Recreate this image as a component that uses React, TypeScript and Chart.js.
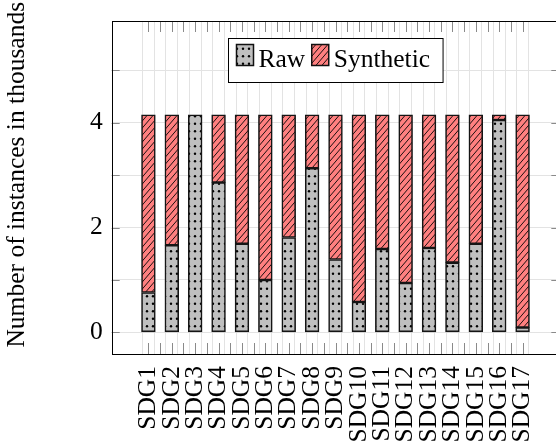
import React, { useEffect, useRef } from 'react';
import { Chart, registerables } from 'chart.js';

Chart.register(...registerables);

const categories = ['SDG1', 'SDG2', 'SDG3', 'SDG4', 'SDG5', 'SDG6', 'SDG7', 'SDG8', 'SDG9', 'SDG10', 'SDG11', 'SDG12', 'SDG13', 'SDG14', 'SDG15', 'SDG16', 'SDG17'];
const rawValues = [0.76, 1.66, 4.15, 2.86, 1.69, 1.0, 1.81, 3.13, 1.39, 0.58, 1.59, 0.94, 1.61, 1.33, 1.69, 4.05, 0.09];
const syntheticValues = [3.39, 2.49, 0, 1.29, 2.46, 3.15, 2.34, 1.02, 2.76, 3.57, 2.56, 3.21, 2.54, 2.82, 2.46, 0.1, 4.06];
const seriesNames = ['Raw', 'Synthetic'];
const yTickValues = [0, 1, 2, 3, 4, 5];
const yTickLabels = ['0', '', '2', '', '4', ''];
const yTitle = 'Number of instances in thousands';

const FONT = 'Liberation Serif';
const FS = 25.5;

const xTickValues: number[] = categories.flatMap((_, i) => (i < categories.length - 1 ? [i, i + 0.5] : [i]));

function makeDots(): CanvasPattern | string {
  const c = document.createElement('canvas');
  c.width = 12;
  c.height = 15;
  const g = c.getContext('2d')!;
  g.fillStyle = '#bfbfbf';
  g.fillRect(0, 0, 12, 15);
  g.fillStyle = '#000';
  const pts = [[3, 3.75], [9, 3.75], [3, 11.25], [9, 11.25]];
  for (const [x, y] of pts) {
    g.beginPath();
    g.arc(x, y, 1.2, 0, Math.PI * 2);
    g.fill();
  }
  return g.createPattern(c, 'repeat') || '#bfbfbf';
}

function makeHatch(): CanvasPattern | string {
  const w = 6, h = 7;
  const c = document.createElement('canvas');
  c.width = w;
  c.height = h;
  const g = c.getContext('2d')!;
  g.fillStyle = '#ff8080';
  g.fillRect(0, 0, w, h);
  g.strokeStyle = '#000';
  g.lineWidth = 0.9;
  g.beginPath();
  for (let k = -1; k <= 1; k++) {
    g.moveTo(k * w, h);
    g.lineTo((k + 1) * w, 0);
  }
  g.stroke();
  return g.createPattern(c, 'repeat') || '#ff8080';
}

const framePlugin = {
  id: 'frame',
  beforeDatasetsDraw(chart: any) {
    const { ctx, chartArea: a, scales } = chart;
    ctx.save();
    ctx.strokeStyle = '#8a8a8a';
    ctx.lineWidth = 1;
    ctx.beginPath();
    for (const v of xTickValues) {
      const px = Math.round(scales.x.getPixelForValue(v)) + 0.5;
      ctx.moveTo(px, a.top);
      ctx.lineTo(px, a.top + 11);
      ctx.moveTo(px, a.bottom);
      ctx.lineTo(px, a.bottom - 11);
    }
    for (const v of yTickValues) {
      const py = Math.round(scales.y.getPixelForValue(v)) + 0.5;
      ctx.moveTo(a.left, py);
      ctx.lineTo(a.left + 8, py);
      ctx.moveTo(a.right, py);
      ctx.lineTo(a.right - 8, py);
    }
    ctx.stroke();
    ctx.restore();
  },
  afterDraw(chart: any) {
    const { ctx, chartArea: a } = chart;
    ctx.save();
    // plot frame
    ctx.strokeStyle = '#000';
    ctx.lineWidth = 1;
    ctx.strokeRect(Math.round(a.left) + 0.5, Math.round(a.top) + 0.5, Math.round(a.right - a.left), Math.round(a.bottom - a.top));

    // legend
    ctx.font = `${FS}px "${FONT}"`;
    const boxW = 17, boxH = 21, gapText = 5, gapItem = 6.5, padL = 8, padR = 13;
    const items = chart.data.datasets.map((d: any) => ({
      label: d.label,
      fill: d.backgroundColor,
      w: ctx.measureText(d.label).width,
    }));
    let contentW = 0;
    items.forEach((it: any, i: number) => {
      contentW += boxW + gapText + it.w + (i > 0 ? gapItem : 0);
    });
    const borderW = padL + contentW + padR;
    const cx = (a.left + a.right) / 2;
    const bx = Math.round(cx - borderW / 2) + 0.5;
    const by = Math.round(a.top + 17.3) + 0.5;
    const bh = 44;
    ctx.fillStyle = '#fff';
    ctx.fillRect(bx, by, borderW, bh);
    ctx.strokeStyle = '#000';
    ctx.lineWidth = 1;
    ctx.strokeRect(bx, by, borderW, bh);
    let x = bx + padL;
    const boxTop = a.top + 23.5;
    const baseline = a.top + 45.7;
    items.forEach((it: any) => {
      ctx.fillStyle = it.fill;
      ctx.fillRect(x, boxTop, boxW, boxH);
      ctx.strokeStyle = '#111';
      ctx.lineWidth = 1.5;
      ctx.strokeRect(x, boxTop, boxW, boxH);
      x += boxW + gapText;
      ctx.fillStyle = '#000';
      ctx.textBaseline = 'alphabetic';
      ctx.textAlign = 'left';
      ctx.fillText(it.label, x, baseline);
      x += it.w + gapItem;
    });
    ctx.restore();
  },
};

export default function App() {
  const ref = useRef<HTMLCanvasElement | null>(null);

  useEffect(() => {
    if (!ref.current) return;
    const dots = makeDots();
    const hatch = makeHatch();
    const chart = new Chart(ref.current, {
      type: 'bar',
      data: {
        datasets: [
          {
            label: seriesNames[0],
            data: rawValues.map((v, i) => ({ x: i, y: v })),
            backgroundColor: dots as any,
            borderColor: '#151515',
            borderWidth: 1.6,
            borderSkipped: false,
            barThickness: 13.8,
          },
          {
            label: seriesNames[1],
            data: syntheticValues.map((v, i) => ({ x: i, y: v })),
            backgroundColor: hatch as any,
            borderColor: '#151515',
            borderWidth: 1.6,
            borderSkipped: false,
            barThickness: 13.8,
          },
        ],
      } as any,
      options: {
        animation: false,
        responsive: false,
        devicePixelRatio: 1,
        layout: { padding: { left: 0, right: 0.7, top: 21, bottom: 0 } },
        plugins: { legend: { display: false }, tooltip: { enabled: false } },
        scales: {
          x: {
            type: 'linear',
            min: -1.28,
            max: 17.28,
            stacked: true,
            afterBuildTicks: (s: any) => {
              s.ticks = xTickValues.map((v) => ({ value: v }));
            },
            afterFit: (s: any) => {
              s.height = 93;
              s.paddingLeft = 0;
              s.paddingRight = 0;
            },
            grid: { color: '#e3e3e3', lineWidth: 1, drawTicks: false },
            border: { display: false },
            ticks: {
              autoSkip: false,
              minRotation: 90,
              maxRotation: 90,
              padding: 12,
              color: '#000',
              font: { family: FONT, size: FS },
              callback: (v: any) => (Number.isInteger(v) ? categories[v] : ''),
            },
          },
          y: {
            type: 'linear',
            min: -0.414,
            max: 5.941,
            stacked: true,
            afterBuildTicks: (s: any) => {
              s.ticks = yTickValues.map((v) => ({ value: v }));
            },
            afterFit: (s: any) => {
              s.width = 111.7;
              s.paddingTop = 0;
              s.paddingBottom = 0;
            },
            grid: { color: '#e3e3e3', lineWidth: 1, drawTicks: false },
            border: { display: false },
            ticks: {
              padding: 9,
              color: '#000',
              font: { family: FONT, size: FS },
              callback: (v: any) => {
                const i = yTickValues.indexOf(v);
                return i >= 0 ? yTickLabels[i] : '';
              },
            },
            title: {
              display: true,
              text: '    ' + yTitle,
              color: '#000',
              font: { family: FONT, size: FS },
              padding: { top: 2, bottom: 0 },
            },
          },
        },
      } as any,
      plugins: [framePlugin],
    });
    return () => chart.destroy();
  }, []);

  return (
    <div style={{ position: 'fixed', left: 0, top: 0, width: 556, height: 447, overflow: 'hidden', background: '#fff' }}>
      <canvas ref={ref} width={560} height={447} style={{ display: 'block' }} />
    </div>
  );
}
